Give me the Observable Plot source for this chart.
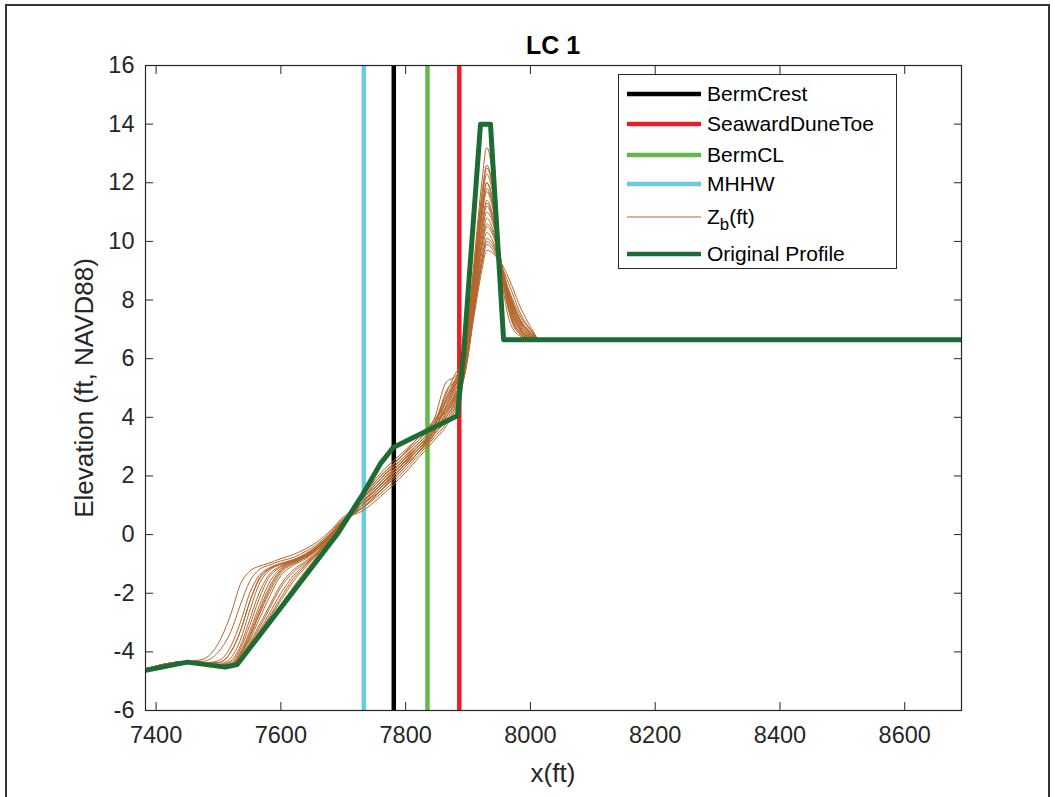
<!DOCTYPE html>
<html><head><meta charset="utf-8">
<script src="https://cdn.jsdelivr.net/npm/d3@7"></script>
<script src="https://cdn.jsdelivr.net/npm/@observablehq/plot@0.6"></script>
<style>
body{margin:0;background:#fff;font-family:"Liberation Sans",Arial,sans-serif;}
#fig{position:relative;width:1055px;height:797px;overflow:hidden;background:#fff;}
#frame{position:absolute;left:5px;top:4px;width:1045px;height:830px;border:2px solid #333;box-sizing:border-box;}
#plot{position:absolute;left:0;top:0;}
.lbl{position:absolute;color:#262626;white-space:nowrap;}
#title{left:553px;top:45px;transform:translate(-50%,-50%);font-weight:bold;font-size:25px;color:#000;}
#xlabel{left:553px;top:773px;transform:translate(-50%,-50%);font-size:26px;}
#ylabel{left:84px;top:388px;transform:translate(-50%,-50%) rotate(-90deg);font-size:26px;}
#legend{position:absolute;left:618px;top:74px;width:279px;height:195px;border:1px solid #262626;background:#fff;box-sizing:border-box;}
.row{position:absolute;left:0;height:30px;width:100%;}
.row svg{position:absolute;left:7px;top:0;}
.row span{position:absolute;left:88px;font-size:21px;color:#000;line-height:30px;top:0;}
</style></head><body>
<div id="fig">
  <div id="plot"></div>
  <div id="frame"></div>
  <div id="title" class="lbl">LC 1</div>
  <div id="xlabel" class="lbl">x(ft)</div>
  <div id="ylabel" class="lbl">Elevation (ft, NAVD88)</div>
  <div id="legend"></div>
</div>
<script>
// ---- data ----
const xTicks = [7400, 7600, 7800, 8000, 8200, 8400, 8600];
const yTicks = [-6, -4, -2, 0, 2, 4, 6, 8, 10, 12, 14, 16];

const markerNames  = ["BermCrest", "SeawardDuneToe", "BermCL", "MHHW"];
const markerX      = [7781, 7886, 7835, 7733];
const markerColors = ["#000000", "#ee1c25", "#62bb46", "#6acbdf"];

const origX = [7383, 7450, 7511, 7530, 7690, 7732, 7760, 7780, 7883, 7893, 7920, 7936, 7957, 8691];
const origY = [-4.63, -4.35, -4.52, -4.43, 0.0, 1.4, 2.43, 2.97, 4.05, 6.2, 14.0, 14.0, 6.65, 6.65];

const zbX = [7383, 7450, 7475, 7500, 7520, 7535, 7550, 7565, 7580, 7600, 7620, 7640, 7660, 7680, 7700,
             7730, 7760, 7790, 7820, 7845, 7865, 7880,
             7895, 7910, 7922, 7930, 7940, 7955, 7970, 7985, 8000, 8015, 8691];
const zb1  = [-4.58,-4.33,-4.25,-3.7,-2.7,-1.7,-1.25,-1.08,-0.98,-0.82,-0.68,-0.48,-0.22,0.15,0.6,
              0.9,1.4,2.0,2.7,3.3,3.8,4.4,
              5.6,7.8,9.4,10.1,9.9,8.9,8.0,7.3,6.95,6.65,6.65];
const zb2  = [-4.58,-4.33,-4.38,-4.3,-3.8,-3.0,-2.0,-1.4,-1.15,-0.98,-0.85,-0.65,-0.35,0.05,0.5,
              1.0,1.6,2.2,2.9,3.4,4.0,4.6,
              6.2,9.2,11.6,12.6,11.8,8.8,7.3,6.8,6.65,6.65,6.65];
const zb3  = [-4.58,-4.33,-4.4,-4.42,-4.2,-3.6,-2.6,-1.7,-1.25,-1.02,-0.9,-0.7,-0.4,0.0,0.48,
              1.1,1.7,2.3,3.0,3.6,4.3,5.0,
              5.8,8.3,10.2,11.0,10.6,9.0,7.8,7.1,6.8,6.65,6.65];
const zb4  = [-4.58,-4.33,-4.4,-4.45,-4.35,-3.9,-3.1,-2.2,-1.5,-1.1,-0.92,-0.72,-0.42,-0.02,0.45,
              1.2,1.9,2.5,3.1,3.7,4.6,5.3,
              6.3,9.4,12.0,13.2,12.2,8.6,7.1,6.75,6.65,6.65,6.65];
const zb5  = [-4.58,-4.33,-4.4,-4.46,-4.42,-4.05,-3.4,-2.6,-1.85,-1.2,-0.95,-0.75,-0.45,-0.05,0.43,
              1.0,1.5,2.1,2.8,3.5,4.1,4.8,
              5.5,7.5,9.0,9.7,9.6,9.2,8.5,7.7,7.1,6.65,6.65];
const zb6  = [-4.58,-4.33,-4.4,-4.47,-4.45,-4.15,-3.6,-2.9,-2.2,-1.4,-1.05,-0.82,-0.5,-0.08,0.42,
              1.3,2.0,2.6,3.2,3.8,4.8,5.5,
              6.0,8.8,11.0,12.0,11.4,9.0,7.5,6.9,6.7,6.65,6.65];
const zb7  = [-4.58,-4.33,-4.4,-4.47,-4.46,-4.2,-3.7,-3.1,-2.5,-1.7,-1.2,-0.9,-0.55,-0.1,0.4,
              0.9,1.5,2.1,2.8,3.4,3.9,4.5,
              5.7,8.0,9.8,10.5,10.2,9.0,7.9,7.2,6.86,6.65,6.65];
const zb8  = [-4.58,-4.33,-4.4,-4.47,-4.47,-4.25,-3.8,-3.3,-2.75,-2.0,-1.4,-1.0,-0.6,-0.12,0.4,
              1.1,1.8,2.4,3.0,3.5,4.2,4.9,
              5.9,8.6,10.8,11.7,11.1,9.0,7.6,6.95,6.72,6.65,6.65];
const zb9  = [-4.58,-4.33,-4.4,-4.47,-4.47,-4.27,-3.85,-3.4,-2.9,-2.25,-1.6,-1.1,-0.65,-0.15,0.38,
              1.2,1.9,2.6,3.3,3.9,5.2,5.4,
              6.1,9.0,11.3,12.3,11.6,8.9,7.4,6.85,6.67,6.65,6.65];
const zb10 = [-4.58,-4.33,-4.4,-4.47,-4.47,-4.27,-3.86,-3.43,-3.0,-2.4,-1.78,-1.22,-0.7,-0.18,0.37,
              1.0,1.6,2.3,2.9,3.5,4.4,5.1,
              5.7,8.1,10.0,10.8,10.4,9.0,7.85,7.15,6.83,6.65,6.65];
const zb11 = [-4.58,-4.33,-4.4,-4.47,-4.47,-4.27,-3.86,-3.44,-3.02,-2.45,-1.88,-1.3,-0.76,-0.22,0.36,
              1.3,2.1,2.7,3.3,3.9,4.5,5.2,
              5.9,8.5,10.5,11.4,10.9,9.0,7.7,7.0,6.75,6.65,6.65];
const zb12 = [-4.58,-4.33,-4.38,-4.38,-4.0,-3.3,-2.3,-1.55,-1.2,-1.0,-0.88,-0.68,-0.38,0.02,0.5,
              0.8,1.3,1.9,2.6,3.2,3.7,4.3,
              5.5,7.6,9.2,9.9,9.7,8.9,8.1,7.4,7.0,6.65,6.65];
const zb13 = [-4.58,-4.33,-4.4,-4.46,-4.4,-4.0,-3.3,-2.45,-1.7,-1.15,-0.93,-0.73,-0.43,-0.03,0.44,
              1.1,1.7,2.4,3.1,3.7,4.7,5.3,
              5.8,8.4,10.4,11.2,10.7,9.0,7.75,7.05,6.78,6.65,6.65];
const zb14 = [-4.58,-4.33,-4.4,-4.47,-4.44,-4.1,-3.5,-2.75,-2.05,-1.3,-1.0,-0.78,-0.48,-0.06,0.42,
              1.2,2.0,2.6,3.2,3.8,4.2,4.7,
              5.6,7.9,9.6,10.3,10.0,8.9,7.95,7.25,6.9,6.65,6.65];
const zb15 = [-4.58,-4.33,-4.39,-4.36,-4.0,-3.3,-2.3,-1.5,-1.18,-1.0,-0.87,-0.67,-0.37,0.03,0.5,
              1.0,1.6,2.3,3.0,3.6,4.9,5.3,
              6.0,8.7,10.9,11.8,11.2,9.1,7.6,6.95,6.7,6.65,6.65];
const zb16 = [-4.58,-4.33,-4.4,-4.44,-4.3,-3.8,-2.9,-2.0,-1.4,-1.07,-0.9,-0.71,-0.41,-0.01,0.46,
              0.9,1.5,2.2,2.9,3.5,4.0,4.6,
              5.5,7.7,9.3,10.0,9.8,9.1,8.3,7.5,7.0,6.65,6.65];
const zb17 = [-4.58,-4.33,-4.4,-4.47,-4.43,-4.1,-3.5,-2.7,-1.95,-1.25,-0.98,-0.77,-0.47,-0.06,0.42,
              1.2,1.8,2.5,3.1,3.7,4.4,5.1,
              6.2,9.1,11.5,12.5,11.8,8.8,7.3,6.8,6.65,6.65,6.65];
const zb18 = [-4.58,-4.33,-4.4,-4.47,-4.47,-4.22,-3.75,-3.2,-2.6,-1.8,-1.28,-0.95,-0.58,-0.12,0.4,
              1.1,1.7,2.4,3.0,3.6,4.3,4.8,
              5.7,8.0,9.9,10.6,10.3,9.1,8.0,7.25,6.85,6.65,6.65];
const zb19 = [-4.58,-4.33,-4.4,-4.47,-4.47,-4.26,-3.83,-3.35,-2.85,-2.15,-1.5,-1.05,-0.62,-0.14,0.38,
              1.0,1.7,2.3,2.9,3.5,4.1,4.7,
              5.8,8.4,10.5,11.3,10.8,9.0,7.7,7.0,6.75,6.65,6.65];
const zb20 = [-4.58,-4.33,-4.32,-4.0,-3.3,-2.4,-1.6,-1.2,-1.05,-0.9,-0.78,-0.57,-0.3,0.1,0.55,
              0.9,1.5,2.2,2.8,3.4,4.6,5.2,
              6.0,8.9,11.1,12.0,11.3,8.9,7.4,6.85,6.68,6.65,6.65];
const zbProfiles = [zb1, zb2, zb3, zb4, zb5, zb6, zb7, zb8, zb9, zb10,
                    zb11, zb12, zb13, zb14, zb15, zb16, zb17, zb18, zb19, zb20];

const zbColor = "#b4662c";
const origColor = "#1d6b35";

// ---- build tables ----
const zbRows = zbProfiles.flatMap((ys, i) => ys.map((y, j) => ({id: i, x: zbX[j], y})));
const origRows = origX.map((x, i) => ({x, y: origY[i]}));

const chart = Plot.plot({
  width: 1055, height: 797,
  marginLeft: 145, marginRight: 94, marginTop: 65, marginBottom: 87,
  x: {domain: [7383, 8691]},
  y: {domain: [-6, 16]},
  style: {background: "transparent", fontFamily: "Liberation Sans, Arial, sans-serif", fontSize: "23.5px", color: "#262626", overflow: "visible"},
  marks: [
    ...markerX.map((mx, i) => Plot.ruleX([mx], {stroke: markerColors[i], strokeWidth: 4.5})),
    Plot.line(zbRows, {x: "x", y: "y", z: "id", stroke: zbColor, strokeWidth: 1, curve: "monotone-x", clip: true}),
    Plot.line(origRows, {x: "x", y: "y", stroke: origColor, strokeWidth: 5, strokeLinejoin: "round", clip: true}),
    Plot.frame({stroke: "#262626", strokeWidth: 1.2}),
    Plot.axisX(xTicks, {anchor: "bottom", tickSize: -8, fill: "none", label: null}),
    Plot.axisX(xTicks, {anchor: "top", tickSize: -8, fill: "none", label: null}),
    Plot.axisX(xTicks, {anchor: "bottom", tickSize: 0, tickPadding: 16, label: null, tickFormat: d => String(d), fill: "#262626"}),
    Plot.axisY(yTicks, {anchor: "left", tickSize: -8, fill: "none", label: null}),
    Plot.axisY(yTicks, {anchor: "right", tickSize: -8, fill: "none", label: null}),
    Plot.axisY(yTicks, {anchor: "left", tickSize: 0, tickPadding: 11, label: null, tickFormat: d => String(d), fill: "#262626"})
  ]
});
document.getElementById("plot").appendChild(chart);

// ---- legend ----
const legendLabels = [...markerNames, "Z_b(ft)", "Original Profile"];
const legendColors = [...markerColors, zbColor, origColor];
const legendWidths = [4.5, 4.5, 4.5, 4.5, 1, 4.5];
const legendTops = [4, 34, 65, 94, 127, 164];
const leg = document.getElementById("legend");
legendLabels.forEach((lab, i) => {
  const row = document.createElement("div");
  row.className = "row";
  row.style.top = legendTops[i] + "px";
  const svg = `<svg width="76" height="30"><line x1="1" x2="75" y1="15" y2="15" stroke="${legendColors[i]}" stroke-width="${legendWidths[i]}"/></svg>`;
  const text = lab === "Z_b(ft)" ? `Z<sub style="font-size:0.8em;vertical-align:-0.35em;">b</sub>(ft)` : lab;
  row.innerHTML = svg + `<span>${text}</span>`;
  leg.appendChild(row);
});
</script>
</body></html>
